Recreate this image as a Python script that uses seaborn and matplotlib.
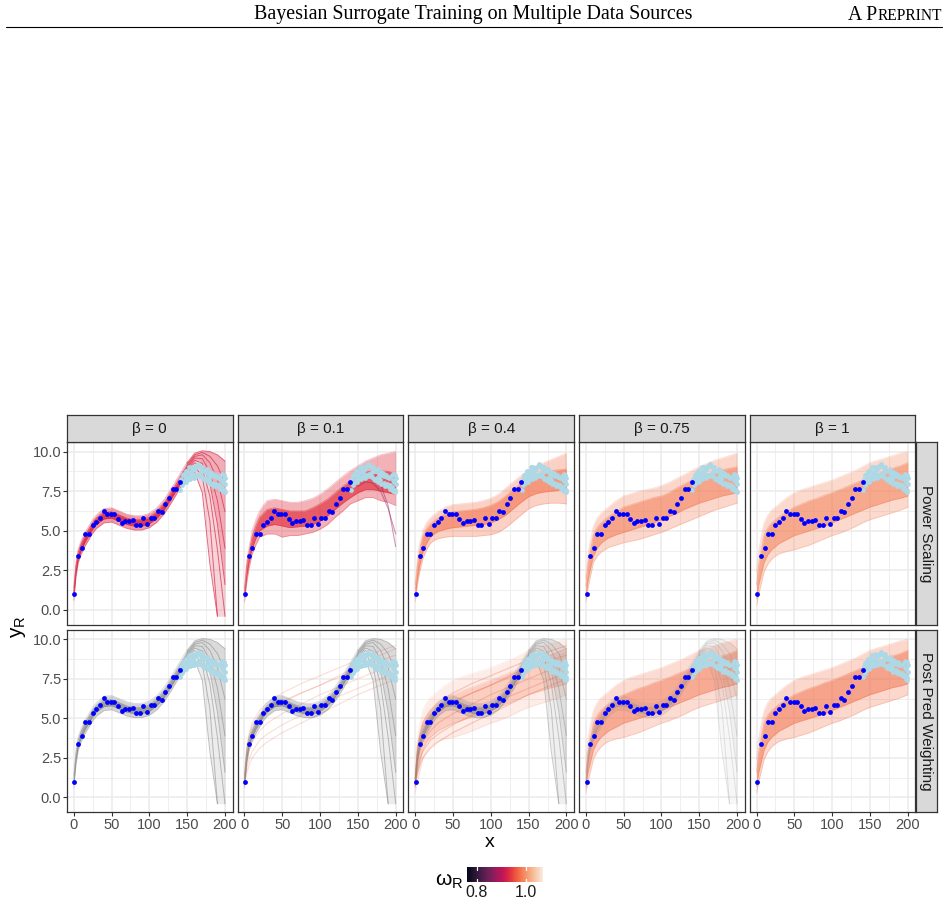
import numpy as np
import pandas as pd
import matplotlib
matplotlib.use("Agg")
import matplotlib.pyplot as plt
import matplotlib.transforms as mtransforms
from matplotlib.lines import Line2D
from matplotlib.colors import Normalize
from matplotlib.cm import ScalarMappable
import seaborn as sns

# ---------------- data ----------------
BETAS = ["0", "0.1", "0.4", "0.75", "1"]
ROWS = ["Power Scaling", "Post Pred Weighting"]

# observed data (blue) and second source (light blue)
BLUE_X = [1, 5.8, 10.6, 15.4, 20.2, 25.0, 29.8, 34.6, 39.4, 44.2, 49.0, 53.8, 58.6, 63.4, 68.2,
          73.0, 77.8, 82.6, 87.4, 92.2, 97.0, 101.8, 106.6, 111.4, 116.2, 121.0, 125.8, 130.6, 135.4, 140.2]
BLUE_Y = [1.0, 3.40, 3.90, 4.77, 4.77, 5.36, 5.57, 5.82, 6.26, 6.03, 6.05, 6.03, 5.76, 5.48, 5.59,
          5.59, 5.67, 5.36, 5.36, 5.80, 5.40, 5.82, 5.82, 6.28, 6.16, 6.68, 7.06, 7.63, 7.63, 8.07]
LB_X = [141, 142, 143, 144, 145, 146, 147, 148, 149, 150, 151, 152, 153, 154, 155, 156, 157, 158, 159, 160,
        161, 162, 163, 164, 165, 166, 167, 168, 169, 170, 171, 172, 173, 174, 175, 176, 177, 178, 179, 180,
        181, 182, 183, 184, 185, 186, 187, 188, 189, 190, 191, 192, 193, 194, 195, 196, 197, 198, 199, 200,
        196.5, 198.5, 199.5, 200, 147.5, 158.5, 168.5, 178.5]
LB_Y = [7.6, 8.3, 7.9, 8.5, 8.0, 8.6, 8.2, 8.75, 8.1, 8.8, 8.3, 8.55, 9.0, 8.3, 8.7, 9.05, 8.4, 8.85, 8.35, 8.95,
        8.5, 9.1, 8.45, 9.2, 8.6, 9.1, 8.45, 8.95, 8.4, 9.05, 8.3, 8.8, 8.2, 8.75, 8.35, 8.9, 8.1, 8.6, 8.2, 8.7,
        7.95, 8.5, 8.65, 8.05, 8.45, 7.85, 8.55, 7.95, 8.4, 7.8, 8.35, 7.9, 7.65, 8.45, 7.75, 8.2, 7.5, 8.1, 7.6, 7.95,
        8.6, 8.55, 7.45, 8.35, 8.45, 8.55, 8.7, 8.35]

# x grids for the posterior curve envelopes
XG = [0, 3, 6, 10, 15, 20, 25, 30, 40, 50, 60, 70, 80, 90, 100, 110, 120, 130, 140, 150, 160, 170, 180, 190, 200]
XF = [0, 3, 6, 10, 15, 20, 25, 30, 40, 50, 60, 70, 80, 90, 100, 110, 120, 130, 140, 150]
TX = [150, 160, 170, 180, 190, 200]
XR = [0, 3, 6, 10, 20, 30, 50, 75, 100, 125, 150, 175, 200]

# tight data-fitting bundle (beta = 0)
FIT_LO_OUT = [0.6, 2.1, 3.0, 3.55, 4.05, 4.45, 4.85, 5.15, 5.5, 5.55, 5.35, 5.15, 5.05, 5.05, 5.2, 5.55, 6.1, 6.85, 7.65, 8.45]
FIT_LO_IN = [0.85, 2.4, 3.25, 3.8, 4.3, 4.7, 5.1, 5.4, 5.75, 5.8, 5.6, 5.4, 5.3, 5.3, 5.45, 5.8, 6.35, 7.1, 7.9, 8.7]
FIT_HI_IN = [1.15, 2.8, 3.65, 4.2, 4.7, 5.1, 5.5, 5.8, 6.15, 6.2, 6.0, 5.8, 5.7, 5.7, 5.85, 6.2, 6.75, 7.5, 8.3, 9.1]
FIT_HI_OUT = [1.4, 3.0, 3.85, 4.4, 4.9, 5.3, 5.7, 6.0, 6.4, 6.45, 6.25, 6.05, 5.95, 5.95, 6.1, 6.45, 7.0, 7.75, 8.55, 9.35]
# diverging fan beyond the data
FAN_1 = [9.3, 9.9, 10.05, 10.0, 9.8, 9.4]
FAN_2 = [9.2, 9.8, 9.95, 9.7, 9.1, 8.0]
FAN_3 = [9.1, 9.7, 9.8, 9.3, 8.2, 6.2]
FAN_4 = [9.0, 9.6, 9.55, 8.7, 6.9, 3.9]
FAN_5 = [8.9, 9.45, 9.25, 8.0, 5.4, 1.6]
FAN_6 = [8.8, 9.3, 8.9, 7.2, 3.8, -0.4]
FAN_7 = [8.7, 9.1, 8.4, 5.6, -0.4, np.nan]
FAN_8 = [8.5, 8.7, 7.4, 2.9, -0.4, np.nan]
FAN_LOW = [8.5, 8.7, 7.4, 2.9, -0.4, -0.4]

# power scaling, beta = 0.1
PS01_LO_OUT = [0.5, 1.7, 2.6, 3.5, 4.1, 4.6, 4.7, 4.8, 4.8, 4.6, 4.7, 4.7, 4.8, 4.9, 5.1, 5.4, 5.85, 6.25, 6.7, 6.9, 7.1, 7.1, 6.9, 6.8, 6.6]
PS01_LO_IN = [0.8, 2.1, 3.0, 3.85, 4.5, 5.0, 5.15, 5.3, 5.4, 5.3, 5.2, 5.25, 5.3, 5.4, 5.6, 5.95, 6.35, 6.75, 7.1, 7.4, 7.6, 7.6, 7.5, 7.4, 7.3]
PS01_HI_IN = [1.15, 2.8, 3.6, 4.6, 5.3, 5.85, 6.1, 6.35, 6.45, 6.35, 6.25, 6.25, 6.25, 6.45, 6.7, 7.0, 7.4, 7.8, 8.15, 8.45, 8.7, 8.8, 8.8, 8.75, 8.6]
PS01_HI_OUT = [1.3, 3.1, 3.9, 5.0, 5.7, 6.25, 6.6, 6.9, 7.0, 6.9, 6.8, 6.8, 6.9, 7.05, 7.3, 7.65, 8.05, 8.45, 8.8, 9.1, 9.4, 9.6, 9.8, 9.9, 10.0]
PS01_TAIL_1 = [8.1, 8.4, 8.4, 7.9, 6.6, 4.0]
PS01_TAIL_2 = [7.8, 8.1, 8.0, 7.5, 6.4, 4.8]

# power scaling, beta = 0.4
PS04_LO_OUT = [0.5, 1.6, 2.4, 3.2, 3.8, 4.2, 4.4, 4.5, 4.6, 4.65, 4.65, 4.65, 4.65, 4.7, 4.75, 4.9, 5.2, 5.6, 6.0, 6.4, 6.6, 6.7, 6.75, 6.75, 6.7]
PS04_LO_IN = [0.8, 2.0, 2.8, 3.6, 4.2, 4.6, 4.8, 4.95, 5.1, 5.2, 5.25, 5.3, 5.35, 5.4, 5.5, 5.7, 6.0, 6.4, 6.8, 7.15, 7.35, 7.45, 7.5, 7.55, 7.55]
PS04_HI_IN = [1.3, 2.8, 3.7, 4.6, 5.1, 5.4, 5.6, 5.8, 6.05, 6.2, 6.25, 6.3, 6.35, 6.45, 6.6, 6.85, 7.2, 7.6, 8.0, 8.35, 8.55, 8.7, 8.8, 8.85, 8.9]
PS04_HI_OUT = [1.6, 3.3, 4.2, 5.0, 5.5, 5.8, 6.0, 6.2, 6.5, 6.65, 6.7, 6.75, 6.8, 6.9, 7.05, 7.3, 7.7, 8.1, 8.5, 8.8, 9.1, 9.3, 9.5, 9.7, 9.9]

# power scaling, beta = 0.75
PS075_LO_OUT = [0.5, 1.4, 2.1, 3.0, 3.4, 3.65, 3.8, 3.95, 4.1, 4.25, 4.35, 4.45, 4.6, 4.75, 4.9, 5.1, 5.3, 5.5, 5.7, 5.9, 6.1, 6.3, 6.45, 6.6, 6.75]
PS075_LO_IN = [0.8, 1.9, 2.6, 3.4, 3.9, 4.2, 4.4, 4.55, 4.75, 4.9, 5.05, 5.2, 5.35, 5.5, 5.7, 5.9, 6.1, 6.35, 6.55, 6.75, 6.9, 7.05, 7.2, 7.3, 7.4]
PS075_HI_IN = [1.5, 3.0, 3.7, 4.7, 5.2, 5.5, 5.7, 5.9, 6.2, 6.5, 6.65, 6.8, 6.95, 7.1, 7.2, 7.4, 7.7, 7.95, 8.2, 8.4, 8.55, 8.7, 8.85, 8.95, 9.05]
PS075_HI_OUT = [2.0, 3.6, 4.4, 5.3, 5.8, 6.1, 6.3, 6.5, 6.9, 7.2, 7.35, 7.5, 7.6, 7.7, 7.85, 8.05, 8.3, 8.55, 8.8, 9.05, 9.25, 9.45, 9.6, 9.75, 9.9]

# power scaling, beta = 1
PS1_LO_OUT = [0.3, 1.0, 1.6, 2.4, 2.9, 3.2, 3.4, 3.55, 3.7, 3.8, 3.95, 4.1, 4.3, 4.5, 4.7, 4.85, 5.05, 5.25, 5.5, 5.7, 5.85, 6.0, 6.15, 6.3, 6.5]
PS1_LO_IN = [0.7, 1.6, 2.2, 3.0, 3.5, 3.8, 4.0, 4.2, 4.45, 4.7, 4.85, 5.0, 5.15, 5.3, 5.5, 5.7, 5.9, 6.1, 6.3, 6.5, 6.65, 6.8, 6.95, 7.05, 7.2]
PS1_HI_IN = [1.6, 2.9, 3.6, 4.7, 5.2, 5.5, 5.7, 5.9, 6.2, 6.5, 6.7, 6.9, 7.05, 7.25, 7.4, 7.6, 7.8, 8.0, 8.2, 8.4, 8.6, 8.8, 8.95, 9.1, 9.3]
PS1_HI_OUT = [2.4, 3.8, 4.6, 5.5, 6.0, 6.3, 6.5, 6.7, 7.1, 7.4, 7.6, 7.75, 7.9, 8.05, 8.2, 8.4, 8.6, 8.8, 9.05, 9.3, 9.45, 9.6, 9.75, 9.9, 10.0]

# sparse red curves in post-pred-weighting panels
PPW_RED_1 = [1.2, 3.2, 4.0, 4.7, 5.5, 6.0, 6.6, 7.2, 7.7, 8.2, 8.7, 9.2, 9.6]
PPW_RED_2 = [1.0, 2.6, 3.4, 4.1, 4.9, 5.4, 6.0, 6.6, 7.1, 7.6, 8.1, 8.6, 9.0]
PPW_RED_3 = [0.9, 2.2, 2.9, 3.5, 4.2, 4.7, 5.3, 5.9, 6.5, 7.0, 7.5, 8.0, 8.4]
PPW_RED_4 = [0.8, 1.8, 2.4, 2.9, 3.6, 4.0, 4.6, 5.2, 5.8, 6.4, 6.9, 7.4, 7.9]
PPW_RED_5 = [0.7, 1.5, 2.0, 2.5, 3.1, 3.5, 4.1, 4.7, 5.3, 5.9, 6.5, 7.0, 7.5]
PPW_RED_6 = [1.1, 3.0, 3.8, 4.5, 5.2, 5.6, 6.1, 6.6, 7.1, 7.7, 8.3, 8.9, 9.4]

# posterior weight omega_R colouring per panel
OMEGA_PS = [0.93, 0.937, 0.98, 0.985, 0.99]
OMEGA_PPW = 0.98
OMEGA_TAIL = 0.88
OMEGA_LIMITS = [0.76, 1.07]
CBAR_TICKS = [0.8, 1.0]
CBAR_LABELS = ["0.8", "1.0"]

# ---------------- style ----------------
sns.set_theme(style="white")
plt.rcParams['font.family'] = ['Liberation Sans', 'DejaVu Sans']
plt.rcParams['mathtext.fontset'] = 'dejavusans'

W, H = 948, 905
fig = plt.figure(figsize=(W / 100, H / 100), dpi=100)
cmap = sns.color_palette("rocket", as_cmap=True)
norm = Normalize(*OMEGA_LIMITS)
GREY = "#7F7F7F"

def fx(px):
    return px / W

def fy(py):
    return 1 - py / H

PANEL_L0 = 67.0
PANEL_W = 165.5
PANEL_STEP = 170.7
ROW_TOP = [442.3, 630.0]
ROW_BOT = [624.5, 812.0]
XLIM = (-8.9, 209.9)
YLIM = (-0.92, 10.59)


def draw_band(ax, x, lo_out, lo_in, hi_in, hi_out, color, scale=1.0):
    ax.fill_between(x, lo_out, hi_out, color=color, alpha=min(1, 0.3 * scale), lw=0, zorder=2)
    ax.fill_between(x, lo_in, hi_in, color=color, alpha=min(1, 0.55 * scale), lw=0, zorder=2)
    for arr, a in ((lo_out, 0.25), (hi_out, 0.25), (lo_in, 0.45), (hi_in, 0.45)):
        sns.lineplot(x=x, y=arr, ax=ax, color=color, alpha=min(1, a * scale), lw=0.6, zorder=2,
                     estimator=None, sort=False, legend=False)


def draw_fit(ax, color, scale=1.0):
    draw_band(ax, XF, FIT_LO_OUT, FIT_LO_IN, FIT_HI_IN, FIT_HI_OUT, color, scale)
    ax.fill_between(TX, FAN_LOW, FAN_1, color=color, alpha=0.13 * scale, lw=0, zorder=2)
    ax.fill_between(TX, FAN_5, FAN_1, color=color, alpha=0.15 * scale, lw=0, zorder=2)
    for f in (FAN_1, FAN_2, FAN_3, FAN_4, FAN_5, FAN_6, FAN_7, FAN_8):
        sns.lineplot(x=TX, y=f, ax=ax, color=color, alpha=min(1, 0.45 * scale), lw=0.7, zorder=2,
                     estimator=None, sort=False, legend=False)


def draw_red_lines(ax, color, scale=1.0):
    for r in (PPW_RED_1, PPW_RED_2, PPW_RED_3, PPW_RED_4, PPW_RED_5, PPW_RED_6):
        sns.lineplot(x=XR, y=r, ax=ax, color=color, alpha=0.3 * scale, lw=0.8, zorder=2,
                     estimator=None, sort=False, legend=False)


axes = {}
for r in range(2):
    for c in range(5):
        left = PANEL_L0 + c * PANEL_STEP
        ax = fig.add_axes([fx(left), fy(ROW_BOT[r]), PANEL_W / W, (ROW_BOT[r] - ROW_TOP[r]) / H])
        axes[(r, c)] = ax
        ax.set_facecolor("white")
        ax.set_xlim(*XLIM)
        ax.set_ylim(*YLIM)
        ax.set_xticks([0, 50, 100, 150, 200])
        ax.set_xticks([25, 75, 125, 175], minor=True)
        ax.set_yticks([0, 2.5, 5.0, 7.5, 10.0])
        ax.set_yticks([1.25, 3.75, 6.25, 8.75], minor=True)
        ax.grid(True, which="major", color="#EBEBEB", lw=1.1, zorder=0)
        ax.grid(True, which="minor", color="#EBEBEB", lw=0.55, zorder=0)
        ax.set_axisbelow(True)
        for s in ax.spines.values():
            s.set_color("#333333")
            s.set_linewidth(0.9)
            s.set_zorder(10)
        ax.tick_params(which="major", length=2.8, width=0.8, color="#333333",
                       labelsize=10.5, labelcolor="#4D4D4D", pad=1.5,
                       bottom=(r == 1), left=(c == 0),
                       labelbottom=(r == 1), labelleft=(c == 0))
        ax.tick_params(which="minor", length=0)
        if c == 0:
            ax.set_yticklabels(["0.0", "2.5", "5.0", "7.5", "10.0"])

# ---- row 1: power scaling ----
ps_cols = [cmap(norm(o)) for o in OMEGA_PS]
draw_fit(axes[(0, 0)], ps_cols[0], 1.55)
draw_band(axes[(0, 1)], XG, PS01_LO_OUT, PS01_LO_IN, PS01_HI_IN, PS01_HI_OUT, ps_cols[1], 1.25)
for t in (PS01_TAIL_1, PS01_TAIL_2):
    sns.lineplot(x=TX, y=t, ax=axes[(0, 1)], color=cmap(norm(OMEGA_TAIL)), alpha=0.45, lw=0.8,
                 estimator=None, sort=False, legend=False)
draw_band(axes[(0, 2)], XG, PS04_LO_OUT, PS04_LO_IN, PS04_HI_IN, PS04_HI_OUT, ps_cols[2], 1.1)
draw_band(axes[(0, 3)], XG, PS075_LO_OUT, PS075_LO_IN, PS075_HI_IN, PS075_HI_OUT, ps_cols[3], 1.0)
draw_band(axes[(0, 4)], XG, PS1_LO_OUT, PS1_LO_IN, PS1_HI_IN, PS1_HI_OUT, ps_cols[4], 1.0)

# ---- row 2: post pred weighting ----
red = cmap(norm(OMEGA_PPW))
draw_fit(axes[(1, 0)], GREY, 1.1)
draw_red_lines(axes[(1, 1)], red, 0.8)
draw_fit(axes[(1, 1)], GREY, 1.1)
draw_red_lines(axes[(1, 2)], red, 1.2)
draw_band(axes[(1, 2)], XG, PS1_LO_OUT, PS1_LO_IN, PS1_HI_IN, PS1_HI_OUT, red, 0.45)
draw_fit(axes[(1, 2)], GREY, 0.9)
draw_band(axes[(1, 3)], XG, PS1_LO_OUT, PS1_LO_IN, PS1_HI_IN, PS1_HI_OUT, red, 0.85)
draw_fit(axes[(1, 3)], GREY, 0.45)
draw_band(axes[(1, 4)], XG, PS1_LO_OUT, PS1_LO_IN, PS1_HI_IN, PS1_HI_OUT, red, 0.95)

# ---- points ----
for ax in axes.values():
    sns.scatterplot(x=LB_X, y=LB_Y, ax=ax, color="#ADD8E6", s=12, linewidth=0, zorder=5, legend=False)
    sns.scatterplot(x=BLUE_X, y=BLUE_Y, ax=ax, color="#0000FF", s=12, linewidth=0, zorder=6, legend=False)
    ax.set_xlabel("")
    ax.set_ylabel("")

# ---- strips ----
STRIP_BG = "#D9D9D9"
for c in range(5):
    left = PANEL_L0 + c * PANEL_STEP
    sax = fig.add_axes([fx(left), fy(442.3), PANEL_W / W, (442.3 - 415.0) / H])
    sax.set_facecolor(STRIP_BG)
    sax.set_xticks([]); sax.set_yticks([])
    for s in sax.spines.values():
        s.set_color("#333333"); s.set_linewidth(0.9)
    sax.text(0.5, 0.47, "\u03b2 = " + BETAS[c], ha="center", va="center", fontsize=11,
             color="#1A1A1A", transform=sax.transAxes)
for r in range(2):
    rax = fig.add_axes([fx(915.7), fy(ROW_BOT[r]), (936.5 - 915.7) / W, (ROW_BOT[r] - ROW_TOP[r]) / H])
    rax.set_facecolor(STRIP_BG)
    rax.set_xticks([]); rax.set_yticks([])
    for s in rax.spines.values():
        s.set_color("#333333"); s.set_linewidth(0.9)
    rax.text(0.5, 0.5, ROWS[r], ha="center", va="center", rotation=270, fontsize=11,
             color="#1A1A1A", transform=rax.transAxes)

# ---- axis titles ----
fig.text(fx(490), fy(842), "x", ha="center", va="center", fontsize=14, color="black")
fig.text(fx(18), fy(627), r"$\mathregular{y_R}$", ha="center", va="center", fontsize=15,
         rotation=90, color="black")

# ---- colorbar legend ----
cax = fig.add_axes([fx(466.7), fy(882.3), 76 / W, 15.6 / H])
cb = fig.colorbar(ScalarMappable(norm=norm, cmap=cmap), cax=cax, orientation="horizontal")
cb.outline.set_visible(False)
cb.set_ticks(CBAR_TICKS)
cax.tick_params(length=0, labelbottom=False)
tr = mtransforms.blended_transform_factory(cax.transData, cax.transAxes)
for t, lab in zip(CBAR_TICKS, CBAR_LABELS):
    cax.add_line(Line2D([t, t], [0, 0.2], transform=tr, color="white", lw=0.9))
    cax.add_line(Line2D([t, t], [0.8, 1.0], transform=tr, color="white", lw=0.9))
    cax.text(t, -0.15, lab, transform=tr, ha="center", va="top", fontsize=11.5, color="#1A1A1A")
fig.text(fx(463), fy(881), r"$\mathregular{\omega_R}$", ha="right", va="center", fontsize=15, color="black")

# ---- page header ----
fig.text(fx(473.5), fy(14), "Bayesian Surrogate Training on Multiple Data Sources",
         ha="center", va="center", fontsize=14.4, family="Liberation Serif", color="black")
renderer = fig.canvas.get_renderer()
t2 = fig.text(fx(942), fy(19.5), "REPRINT", ha="right", va="baseline", fontsize=11.2,
              family="Liberation Serif", color="black")
w2 = t2.get_window_extent(renderer=renderer).width
fig.text(fx(942 - w2), fy(19.5), "A P", ha="right", va="baseline", fontsize=14.2,
         family="Liberation Serif", color="black")
fig.add_artist(Line2D([fx(6), fx(942)], [fy(27), fy(27)], color="black", lw=0.8))

fig.savefig("out.png", dpi=100, facecolor="white")
